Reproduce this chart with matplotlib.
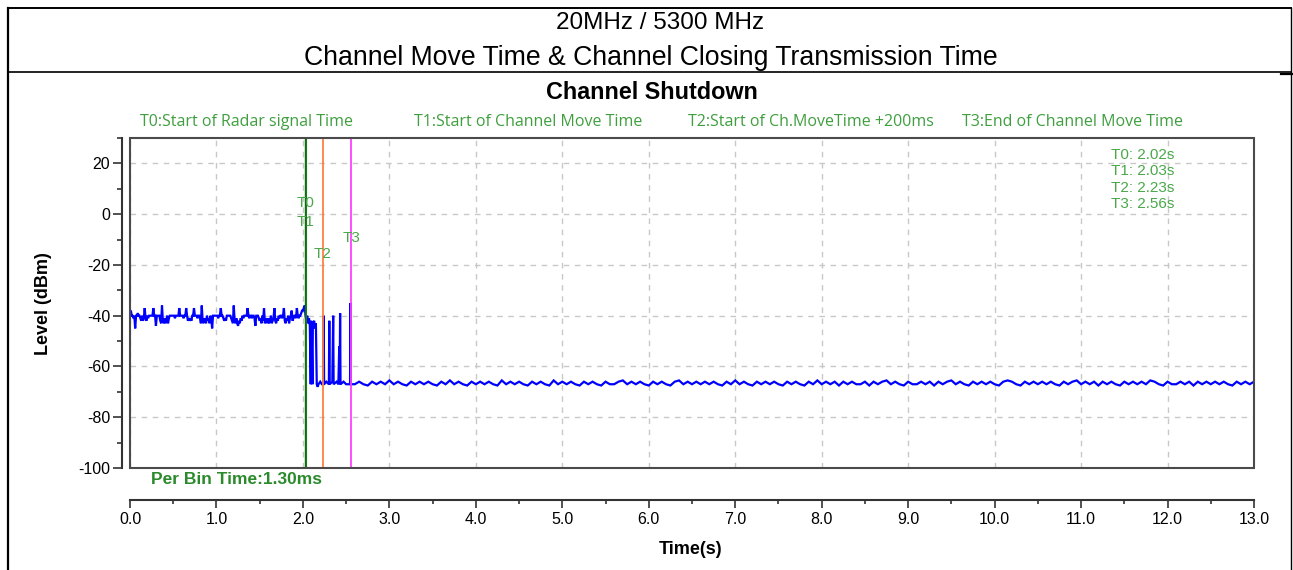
import numpy as np
import matplotlib
matplotlib.use("Agg")
import matplotlib.pyplot as plt
from matplotlib import font_manager
from matplotlib.lines import Line2D
from matplotlib.patches import Rectangle
from matplotlib.ticker import MultipleLocator, FixedLocator

W, H = 1293, 570
plt.rcParams['font.family'] = ['Liberation Sans', 'DejaVu Sans']

_names = {f.name for f in font_manager.fontManager.ttflist}
if "Liberation Sans Narrow" in _names:
    NARROW, NSIZE = ["Liberation Sans Narrow", "DejaVu Sans"], 13
else:
    NARROW, NSIZE = ["Liberation Sans", "DejaVu Sans"], 11

# ---------------- data ----------------
title_lines = ["20MHz / 5300 MHz", "Channel Move Time & Channel Closing Transmission Time"]
chart_title = "Channel Shutdown"
legend_texts = ["T0:Start of Radar signal Time", "T1:Start of Channel Move Time",
                "T2:Start of Ch.MoveTime +200ms", "T3:End of Channel Move Time"]
marker_names = ["T0", "T1", "T2", "T3"]
marker_times = [2.02, 2.03, 2.23, 2.56]
x_ticks = [0, 1, 2, 3, 4, 5, 6, 7, 8, 9, 10, 11, 12, 13]
x_tick_labels = ["0.0", "1.0", "2.0", "3.0", "4.0", "5.0", "6.0", "7.0", "8.0",
                 "9.0", "10.0", "11.0", "12.0", "13.0"]
y_ticks = [-100, -80, -60, -40, -20, 0, 20]
y_tick_labels = ["-100", "-80", "-60", "-40", "-20", "0", "20"]

# level before radar, one value per 0.01 s from 0.00 s
pre_level = [
    -40, -38, -40, -40, -41, -40, -45, -40, -40, -39,
    -40, -40, -41, -42, -40, -42, -41, -37, -41, -42,
    -40, -41, -40, -40, -40, -40, -40, -37, -40, -40,
    -44, -40, -40, -40, -40, -42, -43, -36, -42, -43,
    -41, -43, -42, -40, -43, -41, -40, -40, -40, -40,
    -40, -40, -41, -40, -40, -40, -40, -37, -40, -40,
    -40, -40, -41, -40, -40, -37, -40, -42, -41, -42,
    -41, -42, -40, -40, -37, -40, -40, -40, -41, -40,
    -40, -41, -43, -36, -42, -43, -41, -42, -43, -40,
    -42, -41, -43, -40, -41, -45, -40, -40, -40, -40,
    -40, -40, -41, -40, -40, -37, -40, -40, -41, -42,
    -41, -42, -40, -40, -40, -40, -40, -41, -42, -43,
    -36, -42, -43, -41, -43, -44, -42, -43, -41, -42,
    -40, -41, -40, -40, -40, -40, -37, -40, -41, -40,
    -40, -41, -40, -40, -41, -44, -40, -40, -40, -41,
    -42, -41, -43, -40, -42, -37, -43, -41, -42, -43,
    -41, -43, -42, -40, -43, -42, -41, -37, -42, -43,
    -41, -42, -40, -41, -40, -40, -41, -40, -37, -42,
    -43, -41, -42, -40, -43, -41, -40, -38, -42, -41,
    -40, -40, -41, -37, -40, -41, -40, -40, -39, -38,
    -38, -37, -36,
]
# transition (channel move) samples
trans_time = [2.03, 2.04, 2.05, 2.06, 2.07, 2.08, 2.09, 2.095, 2.10, 2.11, 2.115,
              2.13, 2.14, 2.15, 2.16, 2.17, 2.18, 2.20, 2.22, 2.235, 2.24, 2.245,
              2.27, 2.30, 2.305, 2.31, 2.34, 2.35, 2.355, 2.39, 2.41, 2.42, 2.425,
              2.43, 2.435, 2.47, 2.50, 2.545, 2.55, 2.555]
trans_level = [-40, -42, -40, -43, -41, -44, -67, -42, -44, -67, -43,
               -42, -45, -43, -67, -68, -67, -66, -67, -67, -40, -67,
               -66, -67, -42, -67, -66, -40, -67, -66, -67, -52, -67,
               -39, -67, -66, -67, -67, -35, -67]
# level after channel move, one value per 0.05 s from 2.6 s
post_level = [
    -67, -66, -67, -67.5, -66, -67, -66, -67, -65.5, -67,
    -66, -67, -67.5, -66, -67, -66, -67, -66, -67, -67.5,
    -66, -67, -65.5, -67, -66, -67, -67.5, -66, -67, -66,
    -67, -66, -67, -67.5, -65.5, -67, -66, -67, -66, -67,
    -67.5, -66, -67, -66, -67, -67.5, -65.5, -67, -66, -67,
    -66, -67, -67.5, -66, -67, -66, -67, -67.5, -66, -67,
    -67, -66, -65.5, -67, -66, -67, -66, -67, -67.5, -66,
    -67, -66, -67, -67.5, -66, -65.5, -67, -66, -67, -66,
    -67, -66, -67, -66, -67, -67.5, -66, -67, -65.5, -67,
    -66, -67, -67.5, -66, -67, -66, -67, -66, -67, -67.5,
    -66, -67, -66, -67, -67.5, -66, -67, -65.5, -67, -66,
    -67, -66, -67.5, -66, -67, -66, -67, -67, -66, -67.5,
    -66, -67, -66, -65.5, -67, -66, -67, -67.5, -66, -67,
    -67, -66, -67, -66, -67.5, -66, -67, -66, -65.5, -67,
    -66, -67, -67.5, -66, -67, -66, -67, -66, -67, -67.5,
    -66, -65.5, -66, -67, -67.5, -66, -67, -66, -67, -66,
    -67, -66, -67, -67.5, -66, -67, -66, -65.5, -67, -66,
    -67, -66, -67.5, -66, -67, -66, -67, -67.5, -66, -67,
    -66, -67, -66, -67, -65.5, -66, -67, -67.5, -66, -67,
    -67, -66, -67, -66, -67.5, -66, -67, -66, -67, -66,
    -67, -66, -67, -67.5, -66, -67, -66, -67, -66,
]

pre_time = [round(0.01 * i, 2) for i in range(len(pre_level))]
post_time = [round(2.6 + 0.05 * i, 2) for i in range(len(post_level))]
t_all = pre_time + trans_time + post_time
v_all = pre_level + trans_level + post_level

# ---------------- layout helpers ----------------
def fx(px):
    return px / W

def fy(py):
    return 1 - py / H

PX = 72 / 100  # points per pixel

fig = plt.figure(figsize=(W / 100, H / 100), dpi=100)
fig.patch.set_facecolor("white")

# outer frame lines
for (x0, y0, x1, y1, lw) in [(8, 8, 8, 570, 1.6), (8, 8, 1291, 8, 1.4),
                             (8, 72, 1291, 72, 1.2), (1291, 8, 1291, 570, 1.0),
                             (1281, 74, 1292, 74, 1.6)]:
    fig.add_artist(Line2D([fx(x0), fx(x1)], [fy(y0), fy(y1)], color="black", lw=lw,
                          transform=fig.transFigure))

fig.text(fx(660), fy(23), title_lines[0], ha="center", va="center", fontsize=17.5)
fig.text(fx(651), fy(58), title_lines[1], ha="center", va="center", fontsize=19.2)
fig.text(fx(652), fy(92), chart_title, ha="center", va="center", fontsize=16.8,
         fontweight="bold")

green_txt = "#3f9f3f"
legend_x = [140, 414, 688, 962]
for lx, txt in zip(legend_x, legend_texts):
    fig.text(fx(lx), fy(122), txt, ha="left", va="center", fontsize=11.5,
             color=green_txt, family=["Open Sans", "DejaVu Sans"])

ax = fig.add_axes([fx(130), fy(468), (1254 - 130) / W, (468 - 138) / H])
ax.set_xlim(0, 13)
ax.set_ylim(-100, 30)

ax.plot(t_all, v_all, color="#0000ff", lw=1.6, zorder=3, solid_joinstyle="miter")

marker_colors = ["#0f6e0f", "#1a7a1a", "#ff8040", "#ff40ff"]
marker_lw = [1.0, 0.8, 1.3, 1.3]
for mt, mc, mlw in zip(marker_times, marker_colors, marker_lw):
    ax.axvline(mt, color=mc, lw=mlw, zorder=4)

label_pos = [(marker_times[0] + 0.005, 4.3), (marker_times[1] - 0.005, -2.9),
             (marker_times[2], -15.6), (marker_times[3], -9.3)]
for name, (lx, ly) in zip(marker_names, label_pos):
    ax.text(lx, ly, name, ha="center", va="center", fontsize=NSIZE, color="#4aa84a",
            zorder=5, family=NARROW)

for i, (name, mt) in enumerate(zip(marker_names, marker_times)):
    fig.text(fx(1111), fy(155 + 16.3 * i), f"{name}: {mt:.2f}s", ha="left", va="center",
             fontsize=NSIZE, color="#4aa84a", family=NARROW)

# frame + grid
ax.add_patch(Rectangle((0, 0), 1, 1, transform=ax.transAxes, fill=False,
                       edgecolor="#4a4a4a", lw=1.5, zorder=6, clip_on=False))
ax.grid(True, which="major", color="#c8c8c8", lw=1.0, ls=(0, (4, 4)), zorder=0)

for s in ["top", "right"]:
    ax.spines[s].set_visible(False)
ax.spines["left"].set_position(("outward", 8 * PX))
ax.spines["bottom"].set_position(("outward", 32 * PX))
for s in ["left", "bottom"]:
    ax.spines[s].set_color("#333333")
    ax.spines[s].set_linewidth(1.5)

ax.xaxis.set_major_locator(FixedLocator(x_ticks))
ax.set_xticklabels(x_tick_labels)
ax.xaxis.set_minor_locator(MultipleLocator(0.5))
ax.yaxis.set_major_locator(FixedLocator(y_ticks))
ax.set_yticklabels(y_tick_labels)
ax.yaxis.set_minor_locator(MultipleLocator(10))

ax.tick_params(axis="y", which="major", length=6.5, width=1.2, color="#333333",
               labelsize=11.5, pad=2)
ax.tick_params(axis="y", which="minor", length=3.5, width=1.2, color="#333333")
ax.tick_params(axis="x", which="major", length=5.5, width=1.2, color="#333333",
               labelsize=11.5, pad=3)
ax.tick_params(axis="x", which="minor", length=3, width=1.2, color="#333333")

fig.text(fx(44), fy(304), "Level (dBm)", rotation=90, ha="center", va="center",
         fontsize=13, fontweight="bold")
fig.text(fx(691), fy(549), "Time(s)", ha="center", va="center", fontsize=13,
         fontweight="bold")
fig.text(fx(151), fy(480), "Per Bin Time:1.30ms", ha="left", va="center", fontsize=12.5,
         fontweight="bold", color="#2b8a2b")

fig.savefig("out.png", dpi=100)
